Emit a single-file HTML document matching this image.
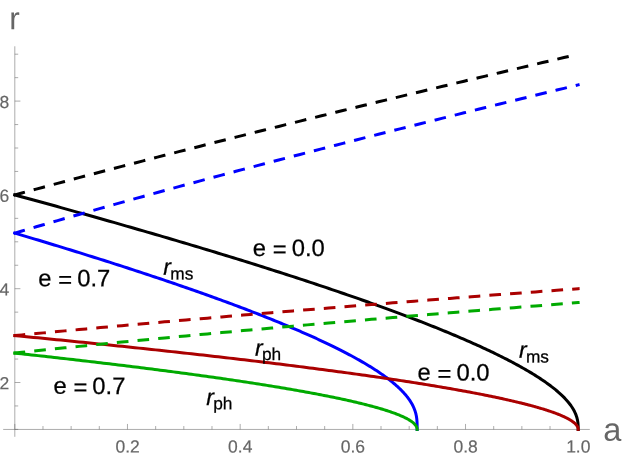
<!DOCTYPE html>
<html><head><meta charset="utf-8"><title>plot</title>
<style>
html,body{margin:0;padding:0;background:#fff;}
body{width:623px;height:458px;overflow:hidden;font-family:"Liberation Sans",sans-serif;}
svg{display:block;}
svg text{font-family:"Liberation Sans",sans-serif;}
</style></head><body>
<svg width="623" height="458" viewBox="0 0 623 458" style="will-change:transform">
<rect width="623" height="458" fill="#fff"/>
<g id="axes">
<line x1="3.2" y1="429.45" x2="589.8" y2="429.45" stroke="#666666" stroke-width="0.55"/>
<line x1="14.80" y1="46.3" x2="14.80" y2="436.8" stroke="#666666" stroke-width="0.55"/>
<line x1="14.80" y1="429.45" x2="14.80" y2="423.95" stroke="#666666" stroke-width="0.55"/>
<line x1="42.97" y1="429.45" x2="42.97" y2="426.05" stroke="#666666" stroke-width="0.55"/>
<line x1="71.14" y1="429.45" x2="71.14" y2="426.05" stroke="#666666" stroke-width="0.55"/>
<line x1="99.31" y1="429.45" x2="99.31" y2="426.05" stroke="#666666" stroke-width="0.55"/>
<line x1="127.48" y1="429.45" x2="127.48" y2="423.95" stroke="#666666" stroke-width="0.55"/>
<line x1="155.65" y1="429.45" x2="155.65" y2="426.05" stroke="#666666" stroke-width="0.55"/>
<line x1="183.82" y1="429.45" x2="183.82" y2="426.05" stroke="#666666" stroke-width="0.55"/>
<line x1="211.99" y1="429.45" x2="211.99" y2="426.05" stroke="#666666" stroke-width="0.55"/>
<line x1="240.16" y1="429.45" x2="240.16" y2="423.95" stroke="#666666" stroke-width="0.55"/>
<line x1="268.33" y1="429.45" x2="268.33" y2="426.05" stroke="#666666" stroke-width="0.55"/>
<line x1="296.50" y1="429.45" x2="296.50" y2="426.05" stroke="#666666" stroke-width="0.55"/>
<line x1="324.67" y1="429.45" x2="324.67" y2="426.05" stroke="#666666" stroke-width="0.55"/>
<line x1="352.84" y1="429.45" x2="352.84" y2="423.95" stroke="#666666" stroke-width="0.55"/>
<line x1="381.01" y1="429.45" x2="381.01" y2="426.05" stroke="#666666" stroke-width="0.55"/>
<line x1="409.18" y1="429.45" x2="409.18" y2="426.05" stroke="#666666" stroke-width="0.55"/>
<line x1="437.35" y1="429.45" x2="437.35" y2="426.05" stroke="#666666" stroke-width="0.55"/>
<line x1="465.52" y1="429.45" x2="465.52" y2="423.95" stroke="#666666" stroke-width="0.55"/>
<line x1="493.69" y1="429.45" x2="493.69" y2="426.05" stroke="#666666" stroke-width="0.55"/>
<line x1="521.86" y1="429.45" x2="521.86" y2="426.05" stroke="#666666" stroke-width="0.55"/>
<line x1="550.03" y1="429.45" x2="550.03" y2="426.05" stroke="#666666" stroke-width="0.55"/>
<line x1="578.20" y1="429.45" x2="578.20" y2="423.95" stroke="#666666" stroke-width="0.55"/>
<line x1="14.80" y1="429.40" x2="18.20" y2="429.40" stroke="#666666" stroke-width="0.55"/>
<line x1="14.80" y1="405.95" x2="18.20" y2="405.95" stroke="#666666" stroke-width="0.55"/>
<line x1="14.80" y1="382.50" x2="20.40" y2="382.50" stroke="#666666" stroke-width="0.55"/>
<line x1="14.80" y1="359.05" x2="18.20" y2="359.05" stroke="#666666" stroke-width="0.55"/>
<line x1="14.80" y1="335.60" x2="18.20" y2="335.60" stroke="#666666" stroke-width="0.55"/>
<line x1="14.80" y1="312.15" x2="18.20" y2="312.15" stroke="#666666" stroke-width="0.55"/>
<line x1="14.80" y1="288.70" x2="20.40" y2="288.70" stroke="#666666" stroke-width="0.55"/>
<line x1="14.80" y1="265.25" x2="18.20" y2="265.25" stroke="#666666" stroke-width="0.55"/>
<line x1="14.80" y1="241.80" x2="18.20" y2="241.80" stroke="#666666" stroke-width="0.55"/>
<line x1="14.80" y1="218.35" x2="18.20" y2="218.35" stroke="#666666" stroke-width="0.55"/>
<line x1="14.80" y1="194.90" x2="20.40" y2="194.90" stroke="#666666" stroke-width="0.55"/>
<line x1="14.80" y1="171.45" x2="18.20" y2="171.45" stroke="#666666" stroke-width="0.55"/>
<line x1="14.80" y1="148.00" x2="18.20" y2="148.00" stroke="#666666" stroke-width="0.55"/>
<line x1="14.80" y1="124.55" x2="18.20" y2="124.55" stroke="#666666" stroke-width="0.55"/>
<line x1="14.80" y1="101.10" x2="20.40" y2="101.10" stroke="#666666" stroke-width="0.55"/>
<line x1="14.80" y1="77.65" x2="18.20" y2="77.65" stroke="#666666" stroke-width="0.55"/>
<line x1="14.80" y1="54.20" x2="18.20" y2="54.20" stroke="#666666" stroke-width="0.55"/>
</g>
<g id="curves">
<path d="M14.80 194.90 L19.50 196.18 L24.19 197.46 L28.86 198.73 L33.50 200.00 L38.13 201.27 L42.73 202.54 L47.32 203.80 L51.89 205.06 L56.43 206.32 L60.96 207.58 L65.47 208.83 L69.96 210.08 L74.42 211.33 L78.87 212.57 L83.30 213.81 L87.71 215.05 L92.10 216.28 L96.47 217.52 L100.82 218.75 L105.15 219.97 L109.46 221.20 L113.75 222.42 L118.02 223.64 L122.27 224.86 L126.50 226.07 L130.71 227.28 L134.91 228.49 L139.08 229.69 L143.23 230.89 L147.36 232.09 L151.48 233.29 L155.57 234.48 L159.64 235.67 L163.70 236.86 L167.73 238.05 L171.74 239.23 L175.74 240.41 L179.71 241.58 L183.67 242.76 L187.60 243.93 L191.52 245.10 L195.42 246.26 L199.29 247.43 L203.15 248.59 L206.99 249.74 L210.80 250.90 L214.60 252.05 L218.38 253.20 L222.14 254.34 L225.87 255.49 L229.59 256.63 L233.29 257.77 L236.97 258.90 L240.63 260.03 L244.27 261.16 L247.89 262.29 L251.49 263.41 L255.07 264.53 L258.63 265.65 L262.17 266.77 L265.69 267.88 L269.19 268.99 L272.68 270.10 L276.14 271.20 L279.58 272.30 L283.00 273.40 L286.40 274.50 L289.79 275.59 L293.15 276.68 L296.50 277.77 L299.82 278.86 L303.12 279.94 L306.41 281.02 L309.67 282.09 L312.92 283.17 L316.14 284.24 L319.35 285.31 L322.53 286.37 L325.70 287.44 L328.85 288.50 L331.97 289.55 L335.08 290.61 L338.17 291.66 L341.23 292.71 L344.28 293.76 L347.31 294.80 L350.32 295.84 L353.31 296.88 L356.28 297.91 L359.23 298.95 L362.15 299.98 L365.06 301.00 L367.95 302.03 L370.82 303.05 L373.68 304.07 L376.51 305.09 L379.32 306.10 L382.11 307.11 L384.88 308.12 L387.63 309.12 L390.36 310.13 L393.08 311.13 L395.77 312.12 L398.44 313.12 L401.10 314.11 L403.73 315.10 L406.34 316.09 L408.94 317.07 L411.51 318.05 L414.07 319.03 L416.60 320.00 L419.12 320.98 L421.61 321.95 L424.09 322.91 L426.54 323.88 L428.98 324.84 L431.40 325.80 L433.79 326.76 L436.17 327.71 L438.53 328.66 L440.86 329.61 L443.18 330.56 L445.48 331.50 L447.76 332.44 L450.02 333.38 L452.26 334.32 L454.48 335.25 L456.67 336.18 L458.85 337.11 L461.01 338.03 L463.15 338.95 L465.28 339.87 L467.38 340.79 L469.46 341.70 L471.52 342.61 L473.56 343.52 L475.58 344.43 L477.58 345.33 L479.57 346.23 L481.53 347.13 L483.47 348.03 L485.40 348.92 L487.30 349.81 L489.18 350.70 L491.05 351.59 L492.89 352.47 L494.72 353.35 L496.52 354.23 L498.31 355.10 L500.07 355.98 L501.82 356.85 L503.54 357.72 L505.25 358.58 L506.94 359.44 L508.60 360.30 L510.25 361.16 L511.88 362.02 L513.49 362.87 L515.08 363.72 L516.64 364.57 L518.19 365.41 L519.72 366.26 L521.23 367.10 L522.72 367.94 L524.19 368.77 L525.64 369.60 L527.07 370.44 L528.48 371.26 L529.87 372.09 L531.24 372.91 L532.59 373.74 L533.92 374.55 L535.24 375.37 L536.53 376.19 L537.80 377.00 L539.05 377.81 L540.29 378.62 L541.50 379.42 L542.69 380.23 L543.87 381.03 L545.02 381.83 L546.15 382.62 L547.27 383.42 L548.36 384.21 L549.44 385.00 L550.49 385.79 L551.53 386.58 L552.55 387.36 L553.54 388.15 L554.52 388.93 L555.48 389.71 L556.41 390.48 L557.33 391.26 L558.23 392.03 L559.10 392.81 L559.96 393.58 L560.80 394.35 L561.62 395.11 L562.42 395.88 L563.20 396.65 L563.96 397.41 L564.70 398.17 L565.42 398.93 L566.12 399.69 L566.80 400.45 L567.46 401.21 L568.10 401.97 L568.72 402.72 L569.32 403.48 L569.90 404.23 L570.47 404.99 L571.01 405.74 L571.53 406.50 L572.04 407.25 L572.52 408.01 L572.98 408.76 L573.43 409.52 L573.85 410.28 L574.25 411.04 L574.64 411.80 L575.00 412.57 L575.35 413.33 L575.68 414.10 L575.98 414.88 L576.27 415.66 L576.53 416.44 L576.78 417.24 L577.01 418.03 L577.21 418.84 L577.40 419.67 L577.57 420.50 L577.72 421.35 L577.84 422.23 L577.95 423.13 L578.04 424.07 L578.11 425.07 L578.16 426.15 L578.19 427.40 L578.20 429.39" fill="none" stroke="#000000" stroke-width="3.0" stroke-linejoin="round" stroke-linecap="square"/>
<path d="M13.64 195.21 L14.80 194.90 L21.93 192.96 L29.06 191.03 L36.19 189.11 L43.33 187.19 L50.46 185.28 L57.59 183.37 L64.72 181.46 L71.85 179.57 L78.98 177.67 L86.12 175.79 L93.25 173.90 L100.38 172.02 L107.51 170.15 L114.64 168.28 L121.77 166.42 L128.91 164.56 L136.04 162.70 L143.17 160.85 L150.30 159.00 L157.43 157.16 L164.56 155.32 L171.70 153.49 L178.83 151.66 L185.96 149.83 L193.09 148.01 L200.22 146.19 L207.35 144.38 L214.49 142.56 L221.62 140.76 L228.75 138.95 L235.88 137.15 L243.01 135.36 L250.14 133.56 L257.28 131.77 L264.41 129.99 L271.54 128.20 L278.67 126.42 L285.80 124.65 L292.93 122.88 L300.07 121.11 L307.20 119.34 L314.33 117.57 L321.46 115.81 L328.59 114.06 L335.72 112.30 L342.86 110.55 L349.99 108.80 L357.12 107.06 L364.25 105.31 L371.38 103.57 L378.51 101.83 L385.65 100.10 L392.78 98.37 L399.91 96.64 L407.04 94.91 L414.17 93.19 L421.30 91.47 L428.44 89.75 L435.57 88.03 L442.70 86.32 L449.83 84.61 L456.96 82.90 L464.09 81.19 L471.23 79.49 L478.36 77.79 L485.49 76.09 L492.62 74.39 L499.75 72.70 L506.88 71.00 L514.02 69.31 L521.15 67.62 L528.28 65.94 L535.41 64.26 L542.54 62.57 L549.67 60.90 L556.81 59.22 L563.94 57.54 L571.07 55.87 L576.50 54.60" fill="none" stroke="#000000" stroke-width="3.0" stroke-linejoin="round" stroke-linecap="butt" stroke-dasharray="11.65 9.11"/>
<path d="M14.80 233.11 L18.16 234.11 L21.51 235.11 L24.84 236.10 L28.16 237.09 L31.46 238.08 L34.75 239.07 L38.02 240.05 L41.28 241.04 L44.53 242.02 L47.76 243.00 L50.98 243.98 L54.19 244.95 L57.38 245.93 L60.56 246.90 L63.72 247.87 L66.87 248.84 L70.00 249.80 L73.12 250.77 L76.23 251.73 L79.32 252.69 L82.40 253.65 L85.46 254.60 L88.51 255.56 L91.55 256.51 L94.57 257.46 L97.58 258.41 L100.57 259.35 L103.55 260.30 L106.52 261.24 L109.47 262.18 L112.41 263.12 L115.33 264.06 L118.24 264.99 L121.13 265.93 L124.01 266.86 L126.88 267.79 L129.73 268.71 L132.57 269.64 L135.40 270.56 L138.21 271.48 L141.00 272.40 L143.79 273.32 L146.55 274.23 L149.31 275.15 L152.05 276.06 L154.77 276.97 L157.49 277.87 L160.18 278.78 L162.87 279.68 L165.54 280.59 L168.19 281.49 L170.83 282.38 L173.46 283.28 L176.07 284.17 L178.67 285.07 L181.26 285.96 L183.83 286.84 L186.39 287.73 L188.93 288.62 L191.46 289.50 L193.97 290.38 L196.47 291.26 L198.96 292.13 L201.43 293.01 L203.89 293.88 L206.33 294.75 L208.76 295.62 L211.18 296.49 L213.58 297.35 L215.97 298.22 L218.34 299.08 L220.70 299.94 L223.05 300.80 L225.38 301.65 L227.70 302.51 L230.00 303.36 L232.29 304.21 L234.57 305.06 L236.83 305.90 L239.07 306.75 L241.31 307.59 L243.53 308.43 L245.73 309.27 L247.92 310.11 L250.10 310.94 L252.26 311.78 L254.41 312.61 L256.54 313.44 L258.66 314.26 L260.77 315.09 L262.86 315.91 L264.94 316.74 L267.00 317.56 L269.05 318.38 L271.09 319.19 L273.11 320.01 L275.12 320.82 L277.11 321.63 L279.09 322.44 L281.06 323.25 L283.01 324.05 L284.94 324.86 L286.87 325.66 L288.78 326.46 L290.67 327.26 L292.55 328.05 L294.42 328.85 L296.27 329.64 L298.11 330.43 L299.93 331.22 L301.74 332.01 L303.54 332.79 L305.32 333.58 L307.09 334.36 L308.84 335.14 L310.58 335.92 L312.31 336.69 L314.02 337.47 L315.72 338.24 L317.40 339.01 L319.07 339.78 L320.73 340.55 L322.37 341.32 L323.99 342.08 L325.61 342.85 L327.21 343.61 L328.79 344.37 L330.36 345.12 L331.92 345.88 L333.46 346.63 L334.99 347.39 L336.50 348.14 L338.00 348.89 L339.49 349.63 L340.96 350.38 L342.42 351.12 L343.86 351.86 L345.29 352.61 L346.71 353.34 L348.11 354.08 L349.50 354.82 L350.87 355.55 L352.23 356.29 L353.58 357.02 L354.91 357.75 L356.23 358.47 L357.53 359.20 L358.82 359.92 L360.09 360.65 L361.35 361.37 L362.60 362.09 L363.83 362.81 L365.05 363.53 L366.26 364.24 L367.45 364.96 L368.62 365.67 L369.79 366.38 L370.93 367.09 L372.07 367.80 L373.19 368.50 L374.29 369.21 L375.39 369.91 L376.46 370.62 L377.53 371.32 L378.58 372.02 L379.61 372.72 L380.63 373.41 L381.64 374.11 L382.63 374.81 L383.61 375.50 L384.58 376.19 L385.53 376.88 L386.47 377.57 L387.39 378.26 L388.30 378.95 L389.19 379.64 L390.07 380.32 L390.94 381.01 L391.79 381.69 L392.63 382.38 L393.45 383.06 L394.26 383.74 L395.06 384.42 L395.84 385.10 L396.61 385.78 L397.36 386.46 L398.10 387.13 L398.83 387.81 L399.54 388.49 L400.24 389.16 L400.92 389.84 L401.59 390.51 L402.24 391.19 L402.88 391.86 L403.51 392.54 L404.12 393.21 L404.72 393.88 L405.31 394.56 L405.88 395.23 L406.43 395.91 L406.98 396.58 L407.51 397.26 L408.02 397.93 L408.52 398.61 L409.01 399.29 L409.48 399.96 L409.94 400.64 L410.38 401.33 L410.81 402.01 L411.22 402.69 L411.63 403.38 L412.01 404.07 L412.39 404.76 L412.75 405.45 L413.09 406.15 L413.42 406.85 L413.74 407.55 L414.04 408.26 L414.33 408.97 L414.61 409.69 L414.87 410.42 L415.11 411.15 L415.34 411.89 L415.56 412.64 L415.77 413.39 L415.96 414.16 L416.13 414.95 L416.30 415.74 L416.44 416.56 L416.58 417.40 L416.70 418.26 L416.80 419.15 L416.89 420.09 L416.97 421.07 L417.04 422.12 L417.08 423.26 L417.12 424.56 L417.14 426.16 L417.15 429.38" fill="none" stroke="#0000ff" stroke-width="3.0" stroke-linejoin="round" stroke-linecap="square"/>
<path d="M13.65 233.45 L14.80 233.11 L21.93 231.00 L29.06 228.90 L36.19 226.81 L43.33 224.73 L50.46 222.66 L57.59 220.59 L64.72 218.54 L71.85 216.49 L78.98 214.45 L86.12 212.42 L93.25 210.39 L100.38 208.38 L107.51 206.37 L114.64 204.37 L121.77 202.37 L128.91 200.39 L136.04 198.40 L143.17 196.43 L150.30 194.46 L157.43 192.50 L164.56 190.55 L171.70 188.60 L178.83 186.65 L185.96 184.72 L193.09 182.78 L200.22 180.86 L207.35 178.94 L214.49 177.02 L221.62 175.11 L228.75 173.21 L235.88 171.31 L243.01 169.41 L250.14 167.53 L257.28 165.64 L264.41 163.76 L271.54 161.89 L278.67 160.02 L285.80 158.15 L292.93 156.29 L300.07 154.43 L307.20 152.58 L314.33 150.73 L321.46 148.89 L328.59 147.05 L335.72 145.22 L342.86 143.38 L349.99 141.56 L357.12 139.73 L364.25 137.91 L371.38 136.10 L378.51 134.29 L385.65 132.48 L392.78 130.67 L399.91 128.87 L407.04 127.07 L414.17 125.28 L421.30 123.49 L428.44 121.70 L435.57 119.92 L442.70 118.14 L449.83 116.36 L456.96 114.59 L464.09 112.82 L471.23 111.05 L478.36 109.28 L485.49 107.52 L492.62 105.76 L499.75 104.01 L506.88 102.26 L514.02 100.51 L521.15 98.76 L528.28 97.02 L535.41 95.28 L542.54 93.54 L549.67 91.80 L556.81 90.07 L563.94 88.34 L571.07 86.61 L578.20 84.89 L579.56 84.56" fill="none" stroke="#0000ff" stroke-width="3.0" stroke-linejoin="round" stroke-linecap="butt" stroke-dasharray="11.65 9.11"/>
<path d="M14.80 335.60 L19.50 336.05 L24.19 336.51 L28.86 336.96 L33.50 337.41 L38.13 337.86 L42.73 338.31 L47.32 338.76 L51.89 339.21 L56.43 339.66 L60.96 340.11 L65.47 340.56 L69.96 341.01 L74.42 341.45 L78.87 341.90 L83.30 342.35 L87.71 342.79 L92.10 343.24 L96.47 343.69 L100.82 344.13 L105.15 344.58 L109.46 345.02 L113.75 345.46 L118.02 345.91 L122.27 346.35 L126.50 346.79 L130.71 347.23 L134.91 347.67 L139.08 348.12 L143.23 348.56 L147.36 349.00 L151.48 349.44 L155.57 349.87 L159.64 350.31 L163.70 350.75 L167.73 351.19 L171.74 351.63 L175.74 352.06 L179.71 352.50 L183.67 352.94 L187.60 353.37 L191.52 353.81 L195.42 354.24 L199.29 354.67 L203.15 355.11 L206.99 355.54 L210.80 355.97 L214.60 356.41 L218.38 356.84 L222.14 357.27 L225.87 357.70 L229.59 358.13 L233.29 358.56 L236.97 358.99 L240.63 359.42 L244.27 359.84 L247.89 360.27 L251.49 360.70 L255.07 361.13 L258.63 361.55 L262.17 361.98 L265.69 362.40 L269.19 362.83 L272.68 363.25 L276.14 363.68 L279.58 364.10 L283.00 364.52 L286.40 364.95 L289.79 365.37 L293.15 365.79 L296.50 366.21 L299.82 366.63 L303.12 367.05 L306.41 367.47 L309.67 367.89 L312.92 368.31 L316.14 368.73 L319.35 369.14 L322.53 369.56 L325.70 369.98 L328.85 370.39 L331.97 370.81 L335.08 371.22 L338.17 371.64 L341.23 372.05 L344.28 372.47 L347.31 372.88 L350.32 373.29 L353.31 373.70 L356.28 374.12 L359.23 374.53 L362.15 374.94 L365.06 375.35 L367.95 375.76 L370.82 376.17 L373.68 376.57 L376.51 376.98 L379.32 377.39 L382.11 377.80 L384.88 378.20 L387.63 378.61 L390.36 379.01 L393.08 379.42 L395.77 379.82 L398.44 380.23 L401.10 380.63 L403.73 381.03 L406.34 381.44 L408.94 381.84 L411.51 382.24 L414.07 382.64 L416.60 383.04 L419.12 383.44 L421.61 383.84 L424.09 384.24 L426.54 384.63 L428.98 385.03 L431.40 385.43 L433.79 385.82 L436.17 386.22 L438.53 386.61 L440.86 387.01 L443.18 387.40 L445.48 387.80 L447.76 388.19 L450.02 388.58 L452.26 388.97 L454.48 389.37 L456.67 389.76 L458.85 390.15 L461.01 390.54 L463.15 390.93 L465.28 391.32 L467.38 391.70 L469.46 392.09 L471.52 392.48 L473.56 392.86 L475.58 393.25 L477.58 393.64 L479.57 394.02 L481.53 394.40 L483.47 394.79 L485.40 395.17 L487.30 395.55 L489.18 395.93 L491.05 396.32 L492.89 396.70 L494.72 397.08 L496.52 397.46 L498.31 397.84 L500.07 398.21 L501.82 398.59 L503.54 398.97 L505.25 399.35 L506.94 399.72 L508.60 400.10 L510.25 400.47 L511.88 400.85 L513.49 401.22 L515.08 401.59 L516.64 401.97 L518.19 402.34 L519.72 402.71 L521.23 403.08 L522.72 403.45 L524.19 403.82 L525.64 404.19 L527.07 404.56 L528.48 404.93 L529.87 405.29 L531.24 405.66 L532.59 406.03 L533.92 406.39 L535.24 406.76 L536.53 407.12 L537.80 407.48 L539.05 407.85 L540.29 408.21 L541.50 408.57 L542.69 408.93 L543.87 409.29 L545.02 409.65 L546.15 410.01 L547.27 410.37 L548.36 410.73 L549.44 411.08 L550.49 411.44 L551.53 411.80 L552.55 412.15 L553.54 412.51 L554.52 412.86 L555.48 413.22 L556.41 413.57 L557.33 413.92 L558.23 414.27 L559.10 414.62 L559.96 414.97 L560.80 415.32 L561.62 415.67 L562.42 416.02 L563.20 416.37 L563.96 416.71 L564.70 417.06 L565.42 417.41 L566.12 417.75 L566.80 418.10 L567.46 418.44 L568.10 418.78 L568.72 419.13 L569.32 419.47 L569.90 419.81 L570.47 420.15 L571.01 420.49 L571.53 420.83 L572.04 421.17 L572.52 421.50 L572.98 421.84 L573.43 422.18 L573.85 422.51 L574.25 422.85 L574.64 423.18 L575.00 423.52 L575.35 423.85 L575.68 424.18 L575.98 424.51 L576.27 424.84 L576.53 425.17 L576.78 425.50 L577.01 425.83 L577.21 426.16 L577.40 426.49 L577.57 426.81 L577.72 427.14 L577.84 427.46 L577.95 427.79 L578.04 428.11 L578.11 428.44 L578.16 428.76 L578.19 429.08 L578.20 429.40" fill="none" stroke="#aa0000" stroke-width="3.0" stroke-linejoin="round" stroke-linecap="square"/>
<path d="M13.61 335.71 L14.80 335.60 L21.93 334.92 L29.06 334.24 L36.19 333.56 L43.33 332.88 L50.46 332.21 L57.59 331.54 L64.72 330.88 L71.85 330.22 L78.98 329.56 L86.12 328.90 L93.25 328.25 L100.38 327.60 L107.51 326.95 L114.64 326.30 L121.77 325.66 L128.91 325.02 L136.04 324.38 L143.17 323.75 L150.30 323.12 L157.43 322.49 L164.56 321.86 L171.70 321.23 L178.83 320.61 L185.96 319.99 L193.09 319.37 L200.22 318.76 L207.35 318.14 L214.49 317.53 L221.62 316.92 L228.75 316.31 L235.88 315.71 L243.01 315.11 L250.14 314.50 L257.28 313.91 L264.41 313.31 L271.54 312.71 L278.67 312.12 L285.80 311.53 L292.93 310.94 L300.07 310.35 L307.20 309.77 L314.33 309.18 L321.46 308.60 L328.59 308.02 L335.72 307.44 L342.86 306.86 L349.99 306.29 L357.12 305.72 L364.25 305.14 L371.38 304.57 L378.51 304.01 L385.65 303.44 L392.78 302.87 L399.91 302.31 L407.04 301.75 L414.17 301.19 L421.30 300.63 L428.44 300.07 L435.57 299.52 L442.70 298.96 L449.83 298.41 L456.96 297.86 L464.09 297.31 L471.23 296.76 L478.36 296.21 L485.49 295.67 L492.62 295.12 L499.75 294.58 L506.88 294.04 L514.02 293.50 L521.15 292.96 L528.28 292.42 L535.41 291.89 L542.54 291.35 L549.67 290.82 L556.81 290.29 L563.94 289.76 L571.07 289.23 L578.20 288.70 L579.60 288.60" fill="none" stroke="#aa0000" stroke-width="3.0" stroke-linejoin="round" stroke-linecap="butt" stroke-dasharray="11.65 9.11"/>
<path d="M14.80 353.10 L18.16 353.46 L21.51 353.82 L24.84 354.19 L28.16 354.55 L31.46 354.91 L34.75 355.27 L38.02 355.63 L41.28 355.99 L44.53 356.35 L47.76 356.72 L50.98 357.07 L54.19 357.43 L57.38 357.79 L60.56 358.15 L63.72 358.51 L66.87 358.87 L70.00 359.23 L73.12 359.59 L76.23 359.94 L79.32 360.30 L82.40 360.66 L85.46 361.01 L88.51 361.37 L91.55 361.72 L94.57 362.08 L97.58 362.43 L100.57 362.79 L103.55 363.14 L106.52 363.50 L109.47 363.85 L112.41 364.20 L115.33 364.55 L118.24 364.91 L121.13 365.26 L124.01 365.61 L126.88 365.96 L129.73 366.31 L132.57 366.66 L135.40 367.01 L138.21 367.36 L141.00 367.71 L143.79 368.06 L146.55 368.41 L149.31 368.76 L152.05 369.11 L154.77 369.45 L157.49 369.80 L160.18 370.15 L162.87 370.49 L165.54 370.84 L168.19 371.19 L170.83 371.53 L173.46 371.88 L176.07 372.22 L178.67 372.57 L181.26 372.91 L183.83 373.25 L186.39 373.60 L188.93 373.94 L191.46 374.28 L193.97 374.62 L196.47 374.97 L198.96 375.31 L201.43 375.65 L203.89 375.99 L206.33 376.33 L208.76 376.67 L211.18 377.01 L213.58 377.35 L215.97 377.69 L218.34 378.03 L220.70 378.36 L223.05 378.70 L225.38 379.04 L227.70 379.38 L230.00 379.71 L232.29 380.05 L234.57 380.38 L236.83 380.72 L239.07 381.06 L241.31 381.39 L243.53 381.72 L245.73 382.06 L247.92 382.39 L250.10 382.72 L252.26 383.06 L254.41 383.39 L256.54 383.72 L258.66 384.05 L260.77 384.39 L262.86 384.72 L264.94 385.05 L267.00 385.38 L269.05 385.71 L271.09 386.04 L273.11 386.36 L275.12 386.69 L277.11 387.02 L279.09 387.35 L281.06 387.68 L283.01 388.00 L284.94 388.33 L286.87 388.66 L288.78 388.98 L290.67 389.31 L292.55 389.63 L294.42 389.96 L296.27 390.28 L298.11 390.61 L299.93 390.93 L301.74 391.25 L303.54 391.58 L305.32 391.90 L307.09 392.22 L308.84 392.54 L310.58 392.86 L312.31 393.18 L314.02 393.50 L315.72 393.82 L317.40 394.14 L319.07 394.46 L320.73 394.78 L322.37 395.10 L323.99 395.42 L325.61 395.73 L327.21 396.05 L328.79 396.37 L330.36 396.69 L331.92 397.00 L333.46 397.32 L334.99 397.63 L336.50 397.95 L338.00 398.26 L339.49 398.57 L340.96 398.89 L342.42 399.20 L343.86 399.51 L345.29 399.83 L346.71 400.14 L348.11 400.45 L349.50 400.76 L350.87 401.07 L352.23 401.38 L353.58 401.69 L354.91 402.00 L356.23 402.31 L357.53 402.62 L358.82 402.93 L360.09 403.24 L361.35 403.54 L362.60 403.85 L363.83 404.16 L365.05 404.46 L366.26 404.77 L367.45 405.08 L368.62 405.38 L369.79 405.69 L370.93 405.99 L372.07 406.29 L373.19 406.60 L374.29 406.90 L375.39 407.20 L376.46 407.51 L377.53 407.81 L378.58 408.11 L379.61 408.41 L380.63 408.71 L381.64 409.01 L382.63 409.31 L383.61 409.61 L384.58 409.91 L385.53 410.21 L386.47 410.51 L387.39 410.80 L388.30 411.10 L389.19 411.40 L390.07 411.70 L390.94 411.99 L391.79 412.29 L392.63 412.58 L393.45 412.88 L394.26 413.17 L395.06 413.47 L395.84 413.76 L396.61 414.06 L397.36 414.35 L398.10 414.64 L398.83 414.93 L399.54 415.23 L400.24 415.52 L400.92 415.81 L401.59 416.10 L402.24 416.39 L402.88 416.68 L403.51 416.97 L404.12 417.26 L404.72 417.55 L405.31 417.84 L405.88 418.12 L406.43 418.41 L406.98 418.70 L407.51 418.99 L408.02 419.27 L408.52 419.56 L409.01 419.85 L409.48 420.13 L409.94 420.42 L410.38 420.70 L410.81 420.99 L411.22 421.27 L411.63 421.56 L412.01 421.84 L412.39 422.12 L412.75 422.41 L413.09 422.69 L413.42 422.97 L413.74 423.25 L414.04 423.54 L414.33 423.82 L414.61 424.10 L414.87 424.38 L415.11 424.66 L415.34 424.94 L415.56 425.22 L415.77 425.50 L415.96 425.78 L416.13 426.06 L416.30 426.34 L416.44 426.62 L416.58 426.90 L416.70 427.18 L416.80 427.45 L416.89 427.73 L416.97 428.01 L417.04 428.29 L417.08 428.57 L417.12 428.84 L417.14 429.12 L417.15 429.40" fill="none" stroke="#00aa00" stroke-width="3.0" stroke-linejoin="round" stroke-linecap="square"/>
<path d="M13.61 353.22 L14.80 353.10 L21.93 352.33 L29.06 351.57 L36.19 350.81 L43.33 350.06 L50.46 349.31 L57.59 348.57 L64.72 347.83 L71.85 347.09 L78.98 346.37 L86.12 345.64 L93.25 344.92 L100.38 344.20 L107.51 343.49 L114.64 342.78 L121.77 342.08 L128.91 341.37 L136.04 340.68 L143.17 339.98 L150.30 339.29 L157.43 338.61 L164.56 337.92 L171.70 337.24 L178.83 336.56 L185.96 335.89 L193.09 335.22 L200.22 334.55 L207.35 333.89 L214.49 333.23 L221.62 332.57 L228.75 331.91 L235.88 331.26 L243.01 330.61 L250.14 329.96 L257.28 329.32 L264.41 328.68 L271.54 328.04 L278.67 327.40 L285.80 326.77 L292.93 326.14 L300.07 325.51 L307.20 324.88 L314.33 324.26 L321.46 323.64 L328.59 323.02 L335.72 322.40 L342.86 321.79 L349.99 321.18 L357.12 320.57 L364.25 319.96 L371.38 319.35 L378.51 318.75 L385.65 318.15 L392.78 317.55 L399.91 316.95 L407.04 316.35 L414.17 315.76 L421.30 315.17 L428.44 314.58 L435.57 313.99 L442.70 313.41 L449.83 312.82 L456.96 312.24 L464.09 311.66 L471.23 311.08 L478.36 310.50 L485.49 309.93 L492.62 309.36 L499.75 308.79 L506.88 308.22 L514.02 307.65 L521.15 307.08 L528.28 306.52 L535.41 305.95 L542.54 305.39 L549.67 304.83 L556.81 304.27 L563.94 303.72 L571.07 303.16 L578.20 302.61 L579.60 302.50" fill="none" stroke="#00aa00" stroke-width="3.0" stroke-linejoin="round" stroke-linecap="butt" stroke-dasharray="11.65 9.11"/>
</g>
<g id="labels">
<text x="127.58" y="452.4" font-size="17.5" fill="#666666" stroke="#666" stroke-width="0.18" text-anchor="middle" transform="rotate(0.05 127.58 452.4)">0.2</text>
<text x="240.26" y="452.4" font-size="17.5" fill="#666666" stroke="#666" stroke-width="0.18" text-anchor="middle" transform="rotate(0.05 240.26 452.4)">0.4</text>
<text x="352.94" y="452.4" font-size="17.5" fill="#666666" stroke="#666" stroke-width="0.18" text-anchor="middle" transform="rotate(0.05 352.94 452.4)">0.6</text>
<text x="465.62" y="452.4" font-size="17.5" fill="#666666" stroke="#666" stroke-width="0.18" text-anchor="middle" transform="rotate(0.05 465.62 452.4)">0.8</text>
<text x="578.30" y="452.4" font-size="17.5" fill="#666666" stroke="#666" stroke-width="0.18" text-anchor="middle" transform="rotate(0.05 578.30 452.4)">1.0</text>
<text x="9.25" y="389.30" font-size="17.5" fill="#666666" stroke="#666" stroke-width="0.18" text-anchor="end" transform="rotate(0.05 9.25 389.30)">2</text>
<text x="9.25" y="295.50" font-size="17.5" fill="#666666" stroke="#666" stroke-width="0.18" text-anchor="end" transform="rotate(0.05 9.25 295.50)">4</text>
<text x="9.25" y="201.70" font-size="17.5" fill="#666666" stroke="#666" stroke-width="0.18" text-anchor="end" transform="rotate(0.05 9.25 201.70)">6</text>
<text x="9.25" y="107.90" font-size="17.5" fill="#666666" stroke="#666" stroke-width="0.18" text-anchor="end" transform="rotate(0.05 9.25 107.90)">8</text>
<text x="9.35" y="29.2" font-size="31.5" fill="#666666" transform="rotate(0.05 9.35 29.2)">r</text>
<text x="603.3" y="440.7" font-size="32.5" fill="#666666" transform="rotate(0.05 603.3 440.7)">a</text>
<text x="252.75" y="255.90" font-size="23.8" fill="#000" stroke="#000" stroke-width="0.25" transform="rotate(0.05 252.75 255.90)">e<tspan x="272.79" dy="1.36">=</tspan><tspan x="291.65" dy="-1.36">0.0</tspan></text>
<text x="38.30" y="286.30" font-size="23.8" fill="#000" stroke="#000" stroke-width="0.25" transform="rotate(0.05 38.30 286.30)">e<tspan x="58.34" dy="1.36">=</tspan><tspan x="77.20" dy="-1.36">0.7</tspan></text>
<text x="417.50" y="380.35" font-size="23.8" fill="#000" stroke="#000" stroke-width="0.25" transform="rotate(0.05 417.50 380.35)">e<tspan x="437.54" dy="1.36">=</tspan><tspan x="456.40" dy="-1.36">0.0</tspan></text>
<text x="53.45" y="393.85" font-size="23.8" fill="#000" stroke="#000" stroke-width="0.25" transform="rotate(0.05 53.45 393.85)">e<tspan x="73.49" dy="1.36">=</tspan><tspan x="92.35" dy="-1.36">0.7</tspan></text>
<text x="163.20" y="274.80" font-size="23.1" fill="#000" stroke="#000" stroke-width="0.25" transform="rotate(0.05 163.20 274.80)"><tspan font-style="italic">r</tspan><tspan x="170.25" dy="4.7" font-size="17.3">ms</tspan></text>
<text x="254.90" y="355.65" font-size="23.1" fill="#000" stroke="#000" stroke-width="0.25" transform="rotate(0.05 254.90 355.65)"><tspan font-style="italic">r</tspan><tspan x="261.95" dy="4.25" font-size="17.3">ph</tspan></text>
<text x="518.90" y="357.80" font-size="23.1" fill="#000" stroke="#000" stroke-width="0.25" transform="rotate(0.05 518.90 357.80)"><tspan font-style="italic">r</tspan><tspan x="525.95" dy="4.7" font-size="17.3">ms</tspan></text>
<text x="206.15" y="405.10" font-size="23.1" fill="#000" stroke="#000" stroke-width="0.25" transform="rotate(0.05 206.15 405.10)"><tspan font-style="italic">r</tspan><tspan x="213.20" dy="4.25" font-size="17.3">ph</tspan></text>
</g>
</svg>
</body></html>
